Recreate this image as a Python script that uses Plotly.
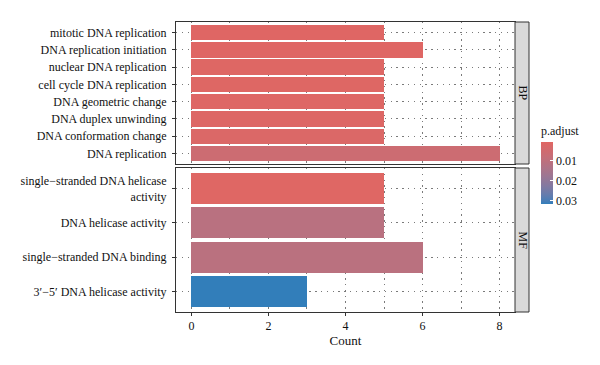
import plotly.graph_objects as go

# ---------------- data ----------------
bp_terms = ["mitotic DNA replication", "DNA replication initiation", "nuclear DNA replication",
            "cell cycle DNA replication", "DNA geometric change", "DNA duplex unwinding",
            "DNA conformation change", "DNA replication"]
bp_counts = [5, 6, 5, 5, 5, 5, 5, 8]
bp_padj = [0.0010, 0.0010, 0.0013, 0.0013, 0.0015, 0.0016, 0.0022, 0.0062]

mf_terms = ["single\u2212stranded DNA helicase<br>activity", "DNA helicase activity",
            "single\u2212stranded DNA binding", "3\u2032\u22125\u2032 DNA helicase activity"]
mf_counts = [5, 5, 6, 3]
mf_padj = [0.0012, 0.0110, 0.0108, 0.0315]

cbar_ticks = [0.01, 0.02, 0.03]
cbar_labels = ["0.01", "0.02", "0.03"]
x_ticks = [0, 2, 4, 6, 8]
padj_min, padj_max = 0.0008, 0.0315

# ---------------- colour scale (Lab interpolation like ggplot) ----------------
def hex2rgb(h):
    h = h.lstrip("#")
    return [int(h[i:i + 2], 16) / 255 for i in (0, 2, 4)]

def srgb2lin(c):
    return c / 12.92 if c <= 0.04045 else ((c + 0.055) / 1.055) ** 2.4

def lin2srgb(c):
    c = max(0.0, min(1.0, c))
    return 12.92 * c if c <= 0.0031308 else 1.055 * c ** (1 / 2.4) - 0.055

def rgb2lab(rgb):
    r, g, b = [srgb2lin(c) for c in rgb]
    X = 0.4124 * r + 0.3576 * g + 0.1805 * b
    Y = 0.2126 * r + 0.7152 * g + 0.0722 * b
    Z = 0.0193 * r + 0.1192 * g + 0.9505 * b
    Xn, Yn, Zn = 0.95047, 1.0, 1.08883
    def f(t):
        return t ** (1 / 3) if t > 216 / 24389 else (24389 / 27 * t + 16) / 116
    fx, fy, fz = f(X / Xn), f(Y / Yn), f(Z / Zn)
    return [116 * fy - 16, 500 * (fx - fy), 200 * (fy - fz)]

def lab2rgb(lab):
    L, a, b = lab
    fy = (L + 16) / 116
    fx = fy + a / 500
    fz = fy - b / 200
    def finv(t):
        return t ** 3 if t ** 3 > 216 / 24389 else (116 * t - 16) / (24389 / 27)
    Xn, Yn, Zn = 0.95047, 1.0, 1.08883
    X, Y, Z = finv(fx) * Xn, finv(fy) * Yn, finv(fz) * Zn
    r = 3.2406 * X - 1.5372 * Y - 0.4986 * Z
    g = -0.9689 * X + 1.8758 * Y + 0.0415 * Z
    bb = 0.0557 * X - 0.2040 * Y + 1.0570 * Z
    return [round(lin2srgb(c) * 255) for c in (r, g, bb)]

low_col, high_col = "#e06663", "#327eba"
lab_lo, lab_hi = rgb2lab(hex2rgb(low_col)), rgb2lab(hex2rgb(high_col))
# Colour axis runs on negated p.adjust so the colourbar shows small values on top
# (reversed guide, as in the original). Scale position 0 = -max (blue), 1 = -min (red).
colorscale = []
for i in range(21):
    t = i / 20
    lab = [lab_hi[k] + (lab_lo[k] - lab_hi[k]) * t for k in range(3)]
    r, g, b = lab2rgb(lab)
    colorscale.append([t, f"rgb({r},{g},{b})"])

# ---------------- geometry ----------------
W, H = 600, 365
def px(x):
    return x / W
def py(y):
    return 1 - y / H

x_dom = [px(176), px(515)]
bp_dom = [py(164), py(22)]
mf_dom = [py(312), py(168)]

font_family = "Liberation Serif, Times New Roman, serif"
txt_col = "#111111"
line_col = "#333333"
dot = "1.3px,4.5px"

fig = go.Figure()
fig.add_trace(go.Bar(
    x=bp_counts, y=bp_terms, orientation="h", width=0.9,
    marker=dict(color=[-v for v in bp_padj], coloraxis="coloraxis", line=dict(width=0)),
    customdata=bp_padj, hovertemplate="%{y}<br>Count=%{x}<br>p.adjust=%{customdata}<extra></extra>",
    xaxis="x2", yaxis="y2", showlegend=False))
fig.add_trace(go.Bar(
    x=mf_counts, y=mf_terms, orientation="h", width=0.9,
    marker=dict(color=[-v for v in mf_padj], coloraxis="coloraxis", line=dict(width=0)),
    customdata=mf_padj, hovertemplate="%{y}<br>Count=%{x}<br>p.adjust=%{customdata}<extra></extra>",
    xaxis="x", yaxis="y", showlegend=False))

grid = dict(showgrid=True, gridcolor="#7a7a7a", gridwidth=1, griddash=dot)
common_x = dict(range=[-0.4, 8.4], domain=x_dom, tickvals=x_ticks, zeroline=False,
                showline=True, mirror=True, linecolor=line_col, linewidth=1,
                automargin=False,
                minor=dict(dtick=1, tick0=0, showgrid=True, gridcolor="#7a7a7a",
                           griddash=dot, gridwidth=1),
                **grid)
common_y = dict(type="category", categoryorder="array", ticks="outside", ticklen=3,
                tickcolor=line_col, showline=True, mirror=True, linecolor=line_col,
                linewidth=1, automargin=False, ticklabelstandoff=3,
                tickfont=dict(size=12, color=txt_col), **grid)

fig.update_layout(
    width=W, height=H,
    margin=dict(l=0, r=0, t=0, b=0, autoexpand=False),
    paper_bgcolor="white", plot_bgcolor="white",
    font=dict(family=font_family, size=12, color=txt_col),
    bargap=0,
    xaxis=dict(anchor="y", ticks="outside", ticklen=3, tickcolor=line_col,
               tickfont=dict(size=12, color=txt_col),
               title=dict(text="Count", font=dict(size=13, color=txt_col), standoff=3),
               **common_x),
    xaxis2=dict(anchor="y2", showticklabels=False, ticks="", **common_x),
    yaxis=dict(domain=mf_dom, anchor="x", categoryarray=list(reversed(mf_terms)),
               range=[-0.6, len(mf_terms) - 0.4], **common_y),
    yaxis2=dict(domain=bp_dom, anchor="x2", categoryarray=list(reversed(bp_terms)),
                range=[-0.6, len(bp_terms) - 0.4], **common_y),
    coloraxis=dict(
        colorscale=colorscale, cmin=-padj_max, cmax=-padj_min,
        colorbar=dict(
            title=dict(text="p.adjust", side="top", font=dict(size=12, color=txt_col)),
            x=px(541), xanchor="left", y=py(123), yanchor="top",
            len=81, lenmode="pixels", thickness=12, thicknessmode="pixels",
            outlinewidth=0, tickvals=[-v for v in cbar_ticks], ticktext=cbar_labels,
            ticks="inside", ticklen=3, tickcolor="white",
            tickfont=dict(size=12, color=txt_col), xpad=0, ypad=0)),
)

# facet strips
strips = [("BP", bp_dom), ("MF", mf_dom)]
for label, dom in strips:
    fig.add_shape(type="rect", xref="paper", yref="paper",
                  x0=px(515), x1=px(529), y0=dom[0], y1=dom[1],
                  fillcolor="#d9d9d9", line=dict(color=line_col, width=1), layer="above")
    fig.add_annotation(text=label, xref="paper", yref="paper",
                       x=px(522.5), y=(dom[0] + dom[1]) / 2, showarrow=False,
                       xanchor="center", yanchor="middle",
                       textangle=90, font=dict(size=12, color=txt_col))

fig.write_html("out.html", config={"displayModeBar": False},
               post_script="document.body.style.margin='0';")
